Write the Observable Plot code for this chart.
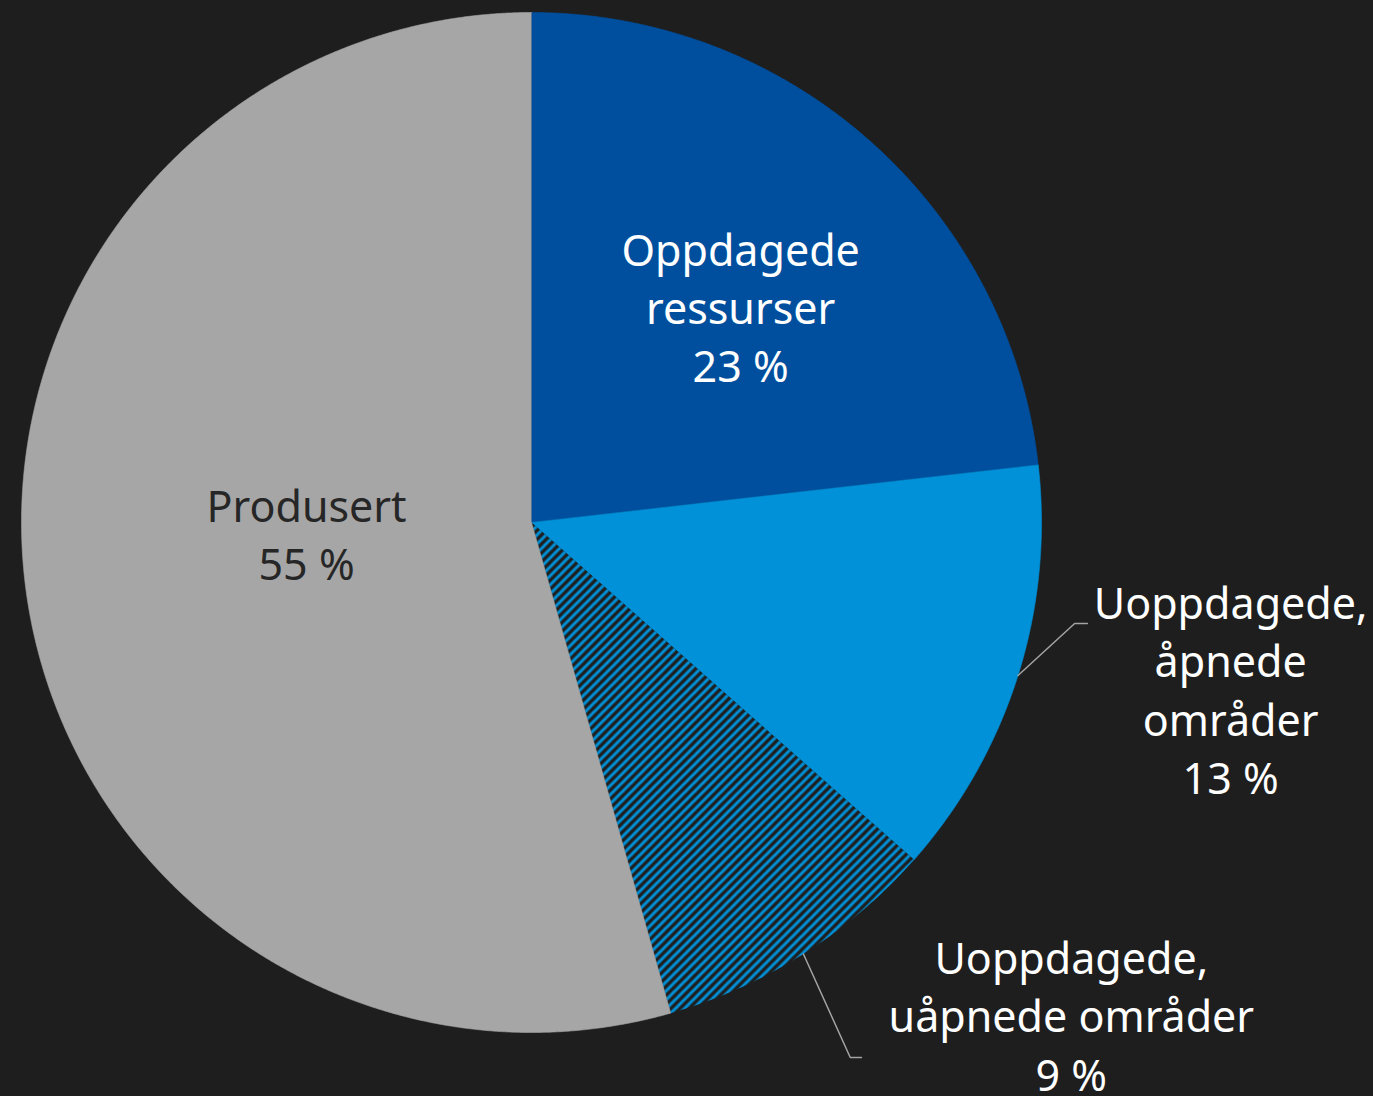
<!DOCTYPE html>
<html>
<head>
<meta charset="utf-8">
<script src="https://cdn.jsdelivr.net/npm/d3@7"></script>
<script src="https://cdn.jsdelivr.net/npm/@observablehq/plot@0.6"></script>
<style>
  html, body { margin: 0; padding: 0; background: #1e1e1e; }
  #chart svg { display: block; }
</style>
</head>
<body>
<div id="chart"></div>
<script>
// ---- data ----
const categories = ["Oppdagede ressurser", "Uoppdagede, åpnede områder", "Uoppdagede, uåpnede områder", "Produsert"];
const labelText = ["Oppdagede\nressurser", "Uoppdagede,\nåpnede\nområder", "Uoppdagede,\nuåpnede områder", "Produsert"];
const shares = [23.2, 13.3, 9.1, 54.4];
const pctLabels = ["23 %", "13 %", "9 %", "55 %"];

// ---- styling / layout ----
const BG = "#1e1e1e";
const sliceFill = ["#004f9e", "#0091d9", "url(#hatch)", "#a6a6a6"];
const textFill = ["#ffffff", "#ffffff", "#ffffff", "#262626"];
// label placement: [angle (deg from north, clockwise), radius (fraction of pie radius)]
const labelPolar = [[44.6, 0.584], [103.7, 1.411], [132.6, 1.438], [266.2, 0.442]];
// leader lines (for outside labels): elbow & end offsets in pie-radius units
const leaders = {1: [[1.065, -0.198], [1.090, -0.198]], 2: [[0.625, -1.049], [0.647, -1.049]]};

const total = d3.sum(shares);
let acc = 0;
const slices = shares.map((v, i) => {
  const a0 = acc / total * 2 * Math.PI;
  acc += v;
  const a1 = acc / total * 2 * Math.PI;
  return {i, a0, a1, mid: (a0 + a1) / 2};
});

const pt = (a, r) => ({x: r * Math.sin(a), y: r * Math.cos(a)});

const sliceRows = [];
slices.forEach(s => {
  sliceRows.push({key: s.i, x: 0, y: 0});
  const n = Math.max(2, Math.ceil((s.a1 - s.a0) / (Math.PI / 720)));
  for (let k = 0; k <= n; k++) {
    const a = s.a0 + (s.a1 - s.a0) * k / n;
    sliceRows.push({key: s.i, ...pt(a, 1)});
  }
});

const labels = slices.map(s => {
  const [deg, r] = labelPolar[s.i];
  const p = pt(deg * Math.PI / 180, r);
  return {key: s.i, x: p.x, y: p.y, text: labelText[s.i] + "\n" + pctLabels[s.i]};
});

const leaderRows = [];
Object.entries(leaders).forEach(([k, pts]) => {
  const s = slices[+k];
  leaderRows.push({key: +k, ...pt(s.mid, 1.0)});
  pts.forEach(([x, y]) => leaderRows.push({key: +k, x, y}));
});

const defsMark = () => {
  const defs = d3.create("svg:defs");
  const P = 9;
  const p = defs.append("pattern")
    .attr("id", "hatch")
    .attr("patternUnits", "userSpaceOnUse")
    .attr("width", P).attr("height", P);
  p.append("rect").attr("width", P).attr("height", P).attr("fill", BG);
  p.append("path")
    .attr("d", `M-2,2L2,-2M0,${P}L${P},0M${P - 2},${P + 2}L${P + 2},${P - 2}`)
    .attr("stroke", "#0091d9")
    .attr("stroke-width", 3.0);
  return defs.node();
};

const chart = Plot.plot({
  width: 1373,
  height: 1096,
  margin: 0,
  style: {background: BG, fontFamily: "'Noto Sans', 'Open Sans', sans-serif"},
  x: {domain: [-1, 1], range: [21, 1041], axis: null},
  y: {domain: [1, -1], range: [12, 1032], axis: null},
  marks: [
    defsMark,
    ...slices.map(s => Plot.line(sliceRows.filter(d => d.key === s.i), {
      x: "x", y: "y", curve: "linear",
      fill: sliceFill[s.i],
      stroke: s.i === 2 ? "none" : sliceFill[s.i],
      strokeWidth: 0.6
    })),
    ...Object.keys(leaders).map(k => Plot.line(leaderRows.filter(d => d.key === +k), {
      x: "x", y: "y", stroke: "#a3a3a3", strokeWidth: 1.5
    })),
    ...labels.map(l => Plot.text([l], {
      x: "x", y: "y", text: "text",
      fill: textFill[l.key],
      fontSize: 43,
      lineHeight: 1.35,
      dy: -5,
      textAnchor: "middle",
      lineAnchor: "middle"
    }))
  ]
});

document.getElementById("chart").appendChild(chart);
</script>
</body>
</html>
